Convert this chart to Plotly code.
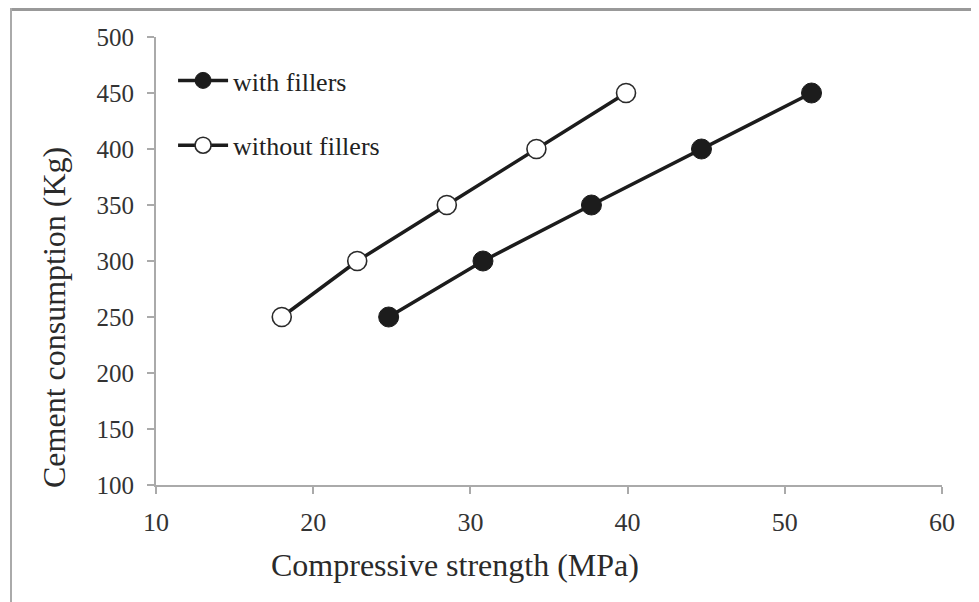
import plotly.graph_objects as go

strength_with = [24.8, 30.8, 37.7, 44.7, 51.7]
strength_without = [18.0, 22.8, 28.5, 34.2, 39.9]
cement = [250, 300, 350, 400, 450]
x_ticks = [10, 20, 30, 40, 50, 60]
y_ticks = [100, 150, 200, 250, 300, 350, 400, 450, 500]
x_title = "Compressive strength (MPa)"
y_title = "Cement consumption (Kg)"

fig = go.Figure()
fig.add_trace(go.Scatter(
    x=strength_with, y=cement, mode="lines+markers", name="with fillers",
    legendgroup="a",
    line=dict(color="#1c1c1c", width=3.5),
    marker=dict(symbol="circle", size=20, color="#1c1c1c",
                line=dict(color="#1c1c1c", width=1)),
))
fig.add_trace(go.Scatter(
    x=strength_without, y=cement, mode="lines+markers", name="without fillers",
    legendgroup="b",
    line=dict(color="#1c1c1c", width=3.5),
    marker=dict(symbol="circle", size=19, color="white",
                line=dict(color="#2a2a2a", width=1.6)),
))

W, H = 971, 594
L, R, T, B = 148, 37, 29, 117
PW, PH = W - L - R, H - T - B
OFF = 8  # page body margin


def px(xp):
    return (xp - OFF - L) / PW


def py(yp):
    return 1 - (yp - OFF - T) / PH


fig.update_layout(
    width=W, height=H,
    margin=dict(l=L, r=R, t=T, b=B),
    paper_bgcolor="white", plot_bgcolor="white",
    font=dict(family="Liberation Serif", color="#222222"),
    showlegend=True,
    legend=dict(x=px(177) - 0.005, y=py(57),
                xanchor="left", yanchor="top",
                font=dict(family="Liberation Serif", size=26, color="#222222"),
                tracegroupgap=28, traceorder="grouped",
                bgcolor="rgba(0,0,0,0)", itemwidth=50),
    xaxis=dict(range=[10, 60], tickvals=x_ticks, showgrid=False, zeroline=False,
               showline=True, linecolor="#aaaaaa", linewidth=2,
               ticks="outside", ticklen=7, tickcolor="#aaaaaa", tickwidth=1.5,
               ticklabelstandoff=6,
               tickfont=dict(family="Liberation Serif", size=26, color="#333333")),
    yaxis=dict(range=[100, 500], tickvals=y_ticks, showgrid=False, zeroline=False,
               showline=True, linecolor="#aaaaaa", linewidth=2,
               ticks="outside", ticklen=7, tickcolor="#aaaaaa", tickwidth=1.5,
               ticklabelstandoff=8,
               tickfont=dict(family="Liberation Serif", size=25, color="#333333")),
)

fig.add_annotation(text=x_title, xref="paper", yref="paper",
                   x=px(455), y=py(565), xanchor="center", yanchor="middle",
                   showarrow=False,
                   font=dict(family="Liberation Serif", size=32, color="#2a2a2a"))
fig.add_annotation(text=y_title, xref="paper", yref="paper",
                   x=px(54), y=py(318), xanchor="center", yanchor="middle",
                   textangle=-90, showarrow=False,
                   font=dict(family="Liberation Serif", size=32, color="#2a2a2a"))

# image border (top and left frame lines)
fig.add_shape(type="line", xref="paper", yref="paper",
              x0=(3 - L) / PW, x1=(W - L) / PW,
              y0=1 + (T - 1.5) / PH, y1=1 + (T - 1.5) / PH,
              line=dict(color="#999999", width=3))
fig.add_shape(type="line", xref="paper", yref="paper",
              x0=(3 - L) / PW, x1=(3 - L) / PW,
              y0=1 + T / PH, y1=-B / PH,
              line=dict(color="#aaaaaa", width=2))

fig.write_html("out.html")
